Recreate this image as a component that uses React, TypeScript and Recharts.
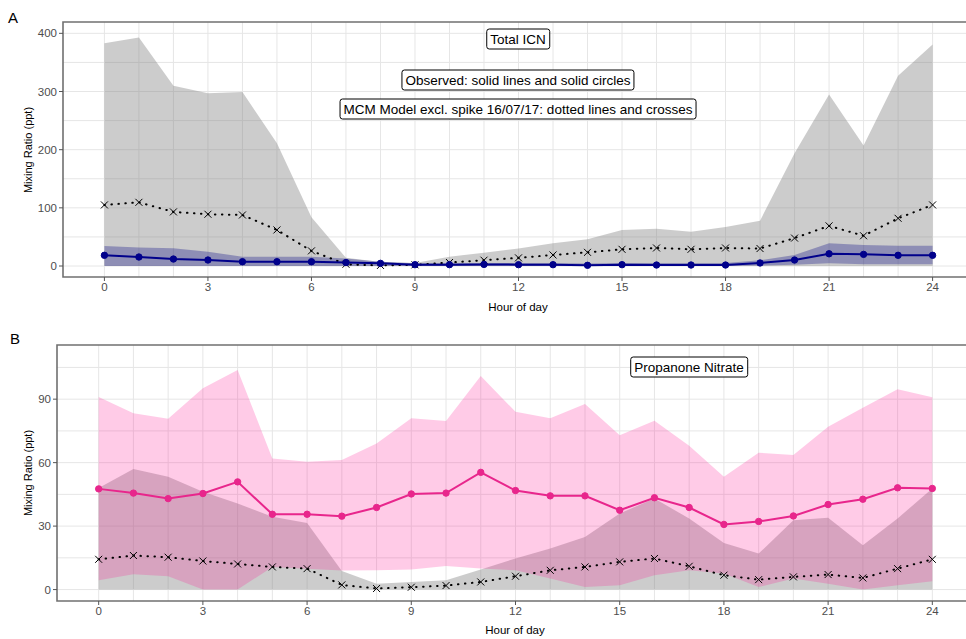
import { ComposedChart, Area, Line, XAxis, YAxis, CartesianGrid, ReferenceArea } from 'recharts'

const HOURS = [0, 1, 2, 3, 4, 5, 6, 7, 8, 9, 10, 11, 12, 13, 14, 15, 16, 17, 18, 19, 20, 21, 22, 23, 24]
const X_TICKS = [0, 3, 6, 9, 12, 15, 18, 21, 24]
const GRID_X = HOURS

// Panel A - Total ICN
const A_OBS = [18.4, 15.5, 12, 10.3, 7.4, 7.4, 7.4, 6, 4.6, 2.3, 2.3, 2.8, 2.3, 2.3, 1.2, 2.3, 1.7, 1.7, 1.7, 5.2, 10.3, 21, 20, 18.4, 18.4]
const A_OBS_LO = [0, 0, 0, 0, 0, 0, 0, 0, 0, 0, 0, 0, 0, 0, 0, 0, 0, 0, 0, 1, 2, 4.6, 3, 3, 3]
const A_OBS_HI = [34.4, 32, 30.4, 24.6, 16, 16, 16, 13, 7.4, 4.6, 5, 5, 5, 5, 4.5, 5, 5, 5, 5, 10, 19, 39, 36, 35, 35]
const A_MOD = [105, 109.5, 93, 89, 87.7, 62, 26, 3, 1, 2, 6, 10, 14, 19, 23.5, 28.7, 31, 28.7, 31, 30, 48, 69, 52, 82, 105]
const A_MOD_LO = [0, 0, 0, 0, 0, 0, 0, 0, 0, 0, 0, 0, 0, 0, 0, 0, 0, 0, 0, 0, 0, 0, 0, 0, 0]
const A_MOD_HI = [383, 393, 310, 297, 299, 211, 84, 14, 7, 5, 16, 23, 30, 39, 46, 62, 64, 59, 67, 78, 194, 295, 207, 327, 381]
const A_Y_TICKS = [0, 100, 200, 300, 400]
const A_GRID_Y = [0, 50, 100, 150, 200, 250, 300, 350, 400]

// Panel B - Propanone Nitrate
const B_OBS = [47.6, 45.6, 43, 45.4, 50.9, 35.6, 35.6, 34.7, 38.8, 45.2, 45.6, 55.4, 46.8, 44.3, 44.3, 37.5, 43.4, 38.8, 30.8, 32.2, 34.8, 40.2, 42.7, 48.1, 47.8]
const B_OBS_LO = [4.4, 7.2, 6.3, 0, 0, 10.7, 9.9, 9, 9.1, 9.5, 11.2, 10, 9.1, 5.2, 1.2, 2, 6.8, 9.1, 7.6, 1.2, 5.2, 2.8, 0, 2, 3.9]
const B_OBS_HI = [91, 83.3, 80.7, 95.1, 103.8, 62, 60.4, 61.2, 69, 81, 79.7, 101, 84, 81, 87.7, 73, 79.8, 68, 53.3, 64.7, 63.6, 77, 86, 94.7, 90.9]
const B_MOD = [14.3, 16.1, 15.3, 13.5, 12.1, 10.7, 9.9, 2.2, 0.5, 1.1, 1.9, 3.6, 6.3, 9.1, 10.7, 13.1, 14.7, 11, 6.8, 4.7, 6, 7.1, 5.5, 9.9, 14.3]
const B_MOD_LO = [0, 0, 0, 0, 0, 0, 0, 0, 0, 0, 0, 0, 0, 0, 0, 0, 0, 0, 0, 0, 0, 0, 0, 0, 0]
const B_MOD_HI = [48, 57, 53.3, 46.2, 40.7, 34.4, 31.5, 8.8, 2.8, 3.6, 4.4, 9.5, 14.7, 19.4, 24.9, 36, 43, 33.6, 22, 17, 32.8, 34, 21, 33.6, 47.8]
const B_Y_TICKS = [0, 30, 60, 90]
const B_GRID_Y = [0, 15, 30, 45, 60, 75, 90, 105]

const FONT = '"Liberation Sans", Arial, sans-serif'

const dataA = HOURS.map((h, i) => ({
    hour: h,
    obs: A_OBS[i],
    obsRange: [A_OBS_LO[i], A_OBS_HI[i]],
    mod: A_MOD[i],
    modRange: [A_MOD_LO[i], A_MOD_HI[i]],
}))

const dataB = HOURS.map((h, i) => ({
    hour: h,
    obs: B_OBS[i],
    obsRange: [B_OBS_LO[i], B_OBS_HI[i]],
    mod: B_MOD[i],
    modRange: [B_MOD_LO[i], B_MOD_HI[i]],
}))

const Cross = (props: any) => {
    const { cx, cy } = props
    if (cx == null || cy == null) return null
    const s = 3.5
    return (
        <path
            d={`M${cx - s},${cy - s}L${cx + s},${cy + s}M${cx - s},${cy + s}L${cx + s},${cy - s}`}
            stroke="#000"
            strokeWidth={1}
            fill="none"
        />
    )
}

const tickStyle = { fontSize: 11.5, fill: '#4d4d4d', fontFamily: FONT }

const boxStyle = (left: number, top: number): React.CSSProperties => ({
    position: 'absolute',
    left,
    top,
    transform: 'translate(-50%, -50%)',
    border: '1px solid #000',
    borderRadius: 3,
    padding: '2px 3px',
    fontSize: 13.5,
    fontFamily: FONT,
    background: '#fff',
    whiteSpace: 'nowrap',
    lineHeight: '15px',
    color: '#000',
})

const textStyle = (left: number, top: number, size: number, rotate = false): React.CSSProperties => ({
    position: 'absolute',
    left,
    top,
    transform: `translate(-50%, -50%)${rotate ? ' rotate(-90deg)' : ''}`,
    fontSize: size,
    fontFamily: FONT,
    whiteSpace: 'nowrap',
    color: '#000',
})

function Panel({ data, yDomain, yTicks, gridY, obsColor, obsFill, obsOpacity, width, height, margin, yWidth }: any) {
    return (
        <ComposedChart width={width} height={height} data={data} margin={margin}>
            <CartesianGrid stroke="#e6e6e6" strokeWidth={1} horizontalValues={gridY} verticalValues={GRID_X} />
            <XAxis
                type="number"
                dataKey="hour"
                domain={[-1.2, 25.2]}
                ticks={X_TICKS}
                allowDataOverflow
                axisLine={false}
                tickLine={{ stroke: '#555' }}
                tickSize={4}
                tick={tickStyle}
                height={30}
            />
            <YAxis
                type="number"
                domain={yDomain}
                ticks={yTicks}
                allowDataOverflow
                axisLine={false}
                tickLine={{ stroke: '#555' }}
                tickSize={4}
                tick={tickStyle}
                width={yWidth}
            />
            <Area
                type="linear"
                dataKey="modRange"
                stroke="none"
                fill="#808080"
                fillOpacity={0.4}
                isAnimationActive={false}
            />
            <Area
                type="linear"
                dataKey="obsRange"
                stroke="none"
                fill={obsFill}
                fillOpacity={obsOpacity}
                isAnimationActive={false}
            />
            <Line
                type="linear"
                dataKey="mod"
                stroke="#000"
                strokeWidth={2}
                strokeDasharray="0.5 6.5"
                strokeLinecap="round"
                dot={<Cross />}
                activeDot={false}
                isAnimationActive={false}
            />
            <Line
                type="linear"
                dataKey="obs"
                stroke={obsColor}
                strokeWidth={2}
                dot={{ r: 3.2, fill: obsColor, stroke: obsColor, strokeWidth: 1 }}
                activeDot={false}
                isAnimationActive={false}
            />
            <ReferenceArea
                x1={-1.2}
                x2={25.2}
                y1={yDomain[0]}
                y2={yDomain[1]}
                fill="none"
                stroke="#707070"
                strokeWidth={1.6}
                ifOverflow="visible"
            />
        </ComposedChart>
    )
}

export default function App() {
    return (
        <div style={{ position: 'absolute', left: 0, top: 0, width: 966, height: 639, overflow: 'hidden', background: '#fff' }}>
            <div style={{ position: 'absolute', left: 0, top: 0 }}>
                <Panel
                    data={dataA}
                    yDomain={[-18.9, 419.5]}
                    yTicks={A_Y_TICKS}
                    gridY={A_GRID_Y}
                    obsColor="#00008b"
                    obsFill="#000080"
                    obsOpacity={0.3}
                    width={980}
                    height={320}
                    margin={{ top: 22, right: 6, bottom: 13, left: 0 }}
                    yWidth={63}
                />
            </div>
            <div style={{ position: 'absolute', left: 0, top: 320 }}>
                <Panel
                    data={dataB}
                    yDomain={[-5.4, 115.6]}
                    yTicks={B_Y_TICKS}
                    gridY={B_GRID_Y}
                    obsColor="#e8268c"
                    obsFill="#ff1493"
                    obsOpacity={0.22}
                    width={980}
                    height={319}
                    margin={{ top: 25, right: 6, bottom: 8, left: 0 }}
                    yWidth={57}
                />
            </div>

            <div style={{ ...textStyle(13, 17, 15) }}>A</div>
            <div style={{ ...textStyle(15, 338, 15) }}>B</div>

            <div style={textStyle(28, 150, 11, true)}>Mixing Ratio (ppt)</div>
            <div style={textStyle(28, 473, 11, true)}>Mixing Ratio (ppt)</div>
            <div style={textStyle(518, 307, 11.5)}>Hour of day</div>
            <div style={textStyle(515, 630, 11.5)}>Hour of day</div>

            <div style={boxStyle(518, 39)}>Total ICN</div>
            <div style={boxStyle(518, 80)}>Observed: solid lines and solid circles</div>
            <div style={boxStyle(518, 109)}>MCM Model excl. spike 16/07/17: dotted lines and crosses</div>
            <div style={boxStyle(689, 367)}>Propanone Nitrate</div>
        </div>
    )
}
